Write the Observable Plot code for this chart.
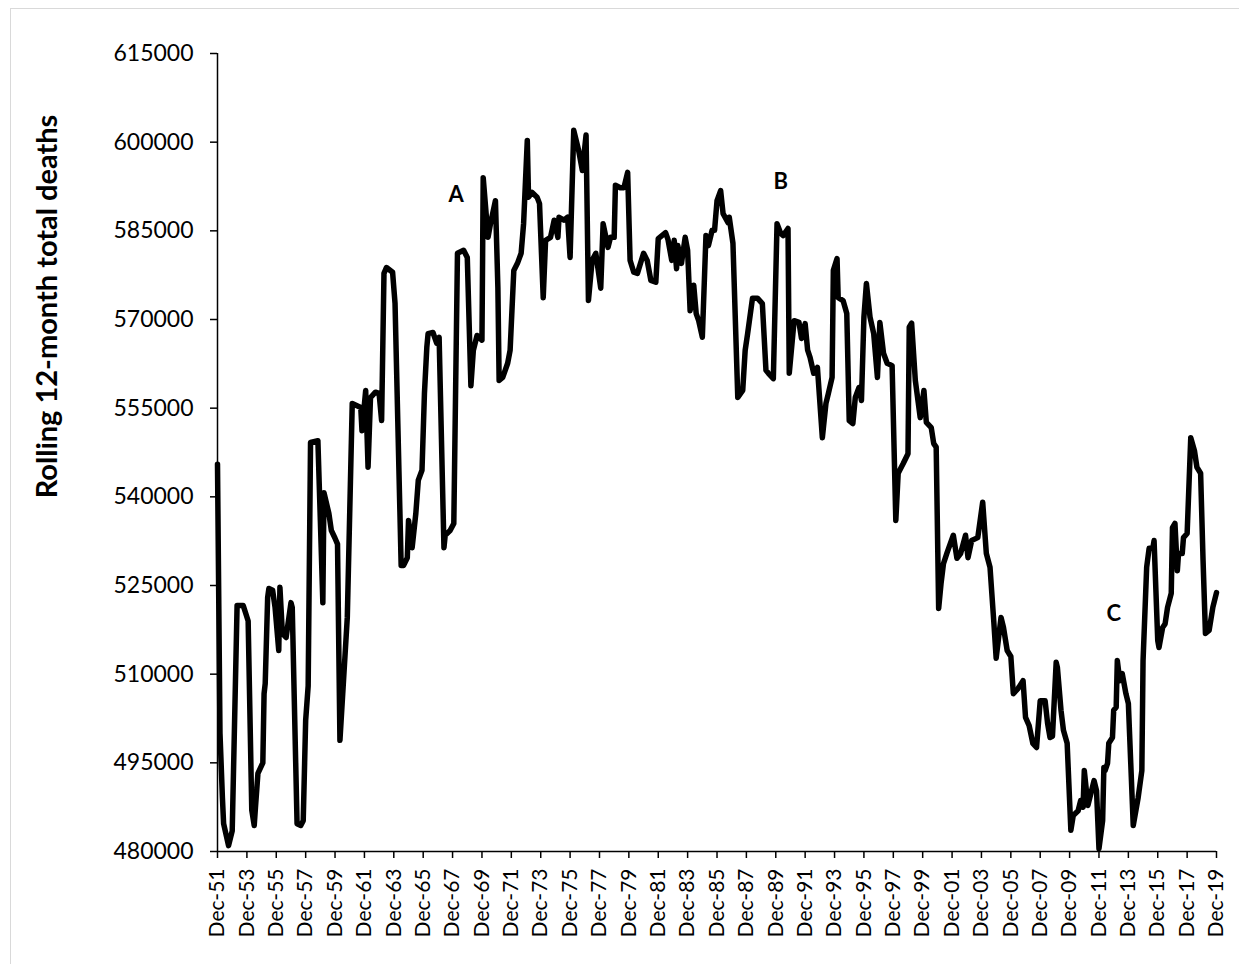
<!DOCTYPE html>
<html>
<head>
<meta charset="utf-8">
<script src="https://cdn.jsdelivr.net/npm/d3@7"></script>
<script src="https://cdn.jsdelivr.net/npm/@observablehq/plot@0.6"></script>
<style>
  html, body { margin: 0; padding: 0; background: white; }
</style>
</head>
<body>
<script>
// Month of each reading (rolling 12-month window ending that month)
const months = [
"1951-12","1952-02","1952-04","1952-05","1952-09","1952-12","1953-04","1953-09","1953-11","1954-01",
"1954-04","1954-06","1954-07","1954-09","1955-01","1955-02","1955-03","1955-05","1955-06","1955-09",
"1955-11","1956-02","1956-03","1956-05","1956-08","1956-12","1957-01","1957-05","1957-08","1957-10",
"1957-12","1958-02","1958-04","1958-10","1958-12","1959-02","1959-03","1959-07","1959-09","1959-12",
"1960-02","1960-04","1960-10","1961-02","1961-09","1961-10","1962-01","1962-03","1962-05","1962-09",
"1962-12","1963-02","1963-04","1963-06","1963-11","1964-01","1964-06","1964-08","1964-11","1964-12",
"1965-03","1965-06","1965-08","1965-11","1966-01","1966-03","1966-04","1966-08","1966-11","1967-01",
"1967-05","1967-06","1967-10","1968-01","1968-04","1968-09","1968-12","1969-03","1969-05","1969-08",
"1969-12","1970-01","1970-05","1970-07","1970-11","1971-01","1971-02","1971-05","1971-09","1971-11",
"1972-02","1972-05","1972-08","1972-10","1973-01","1973-02","1973-05","1973-09","1973-11","1974-02",
"1974-04","1974-08","1974-11","1975-02","1975-03","1975-07","1975-10","1975-12","1976-03","1976-07",
"1976-10","1977-01","1977-03","1977-06","1977-09","1978-01","1978-03","1978-07","1978-09","1978-12",
"1979-01","1979-05","1979-08","1979-11","1980-01","1980-04","1980-07","1980-12","1981-03","1981-06",
"1981-10","1981-12","1982-06","1982-08","1982-11","1983-01","1983-03","1983-04","1983-07","1983-10",
"1983-12","1984-02","1984-05","1984-07","1984-09","1984-12","1985-03","1985-05","1985-08","1985-10",
"1985-12","1986-03","1986-05","1986-09","1986-10","1987-01","1987-05","1987-09","1987-11","1988-01",
"1988-05","1988-09","1989-01","1989-04","1989-06","1989-10","1990-01","1990-04","1990-06","1990-10",
"1990-11","1991-03","1991-07","1991-09","1991-12","1992-02","1992-04","1992-07","1992-10","1993-02",
"1993-05","1993-07","1993-10","1993-11","1994-02","1994-03","1994-07","1994-10","1994-12","1995-03",
"1995-05","1995-08","1995-10","1995-12","1996-02","1996-05","1996-08","1996-11","1997-01","1997-04",
"1997-07","1997-11","1998-02","1998-04","1998-08","1998-12","1999-01","1999-03","1999-06","1999-10",
"2000-01","2000-03","2000-07","2000-09","2000-11","2001-01","2001-03","2001-05","2001-08","2002-01",
"2002-04","2002-07","2002-11","2003-01","2003-04","2003-09","2004-01","2004-04","2004-07","2004-10",
"2004-12","2005-04","2005-06","2005-09","2005-12","2006-02","2006-06","2006-10","2006-12","2007-03",
"2007-06","2007-09","2007-12","2008-04","2008-06","2008-08","2008-10","2009-01","2009-02","2009-05",
"2009-07","2009-10","2010-01","2010-03","2010-07","2010-09","2010-11","2010-12","2011-03","2011-08",
"2011-10","2011-12","2012-03","2012-04","2012-05","2012-07","2012-08","2012-11","2012-12","2013-02",
"2013-03","2013-05","2013-07","2013-10","2013-12","2014-04","2014-08","2014-11","2014-12","2015-03",
"2015-05","2015-08","2015-09","2015-12","2016-01","2016-04","2016-06","2016-08","2016-11","2016-12",
"2017-02","2017-04","2017-05","2017-08","2017-09","2017-12","2018-01","2018-03","2018-06","2018-08",
"2018-11","2019-01","2019-03","2019-06","2019-09","2019-12"
];

// Rolling 12-month total deaths at each month above
const deaths = [
545500,500000,489100,484700,481000,483500,521600,521600,520300,519000,
487000,484400,487400,493200,495000,506700,508400,523000,524500,524200,
521300,514000,524700,516900,516200,522100,521300,484700,484400,485200,
502200,508000,549200,549500,536000,522100,540700,537200,534300,533000,
532000,498800,519600,555800,555100,551200,558000,545000,556800,557700,
557500,552900,577800,578800,578000,572700,528400,528400,529700,536000,
531400,537200,542800,544500,557500,565300,567600,567800,566000,567000,
531400,533500,534300,535500,581200,581700,580500,558800,564800,567300,
566500,594000,583900,586200,590100,575400,559700,560200,562600,564800,
578300,579500,581200,586200,600300,590700,591500,590700,589600,573700,
583400,583900,586800,583900,587300,586800,587300,580500,602000,598600,
595200,601200,573200,580000,581200,575300,586200,582200,583900,583900,
592700,592300,592300,594900,580000,578000,577800,581200,580000,576600,
576300,583700,584700,583500,580000,583400,578600,582500,579500,583900,
581700,571500,575800,571000,569800,567000,584200,582500,585100,585100,
590100,591800,587900,586400,587300,582900,556800,558000,564800,567600,
573600,573600,572700,561400,560900,560000,586200,584600,584200,585400,
560900,569800,569500,566800,569300,564800,563600,560900,561900,550000,
555800,557500,560200,578300,580300,573700,573200,571000,552900,552400,
556800,558500,556300,570400,576100,570400,567600,560200,569500,564300,
562600,562200,536000,544000,545600,547300,568700,569400,559700,553400,
558000,552600,551700,549000,548400,521100,525300,528700,530600,533500,
529600,530400,533500,529700,532600,533100,539100,530400,528100,519100,
512700,519600,517900,514000,513000,506700,507600,508900,502700,501300,
498300,497600,505500,505500,501700,499300,499500,512000,511100,503900,
500500,498300,483600,486100,486900,488600,487500,493700,487800,492000,
490300,480500,485200,494200,493700,494900,498300,499300,503900,504400,
512300,508900,510100,506700,505000,484400,489100,493700,512300,528100,
531300,531300,532600,515700,514500,517900,518500,521300,523700,534800,
535500,527500,530400,530400,533100,533800,539400,550000,547800,545000,
544000,529200,516900,517400,521300,523800
];

// Annotations
const noteLabels = ["A", "B", "C"];
const noteMonths = ["1968-03", "1990-04", "2012-12"];
const noteValues = [591000, 593300, 520200];

// Axis ticks
const yTicks = [480000, 495000, 510000, 525000, 540000, 555000, 570000, 585000, 600000, 615000];
const xTickYears = d3.range(1951, 2020, 2); // December of every other year
const yTitle = "Rolling 12-month total deaths";

const parse = d3.utcParse("%Y-%m");
const data = months.map((m, i) => ({date: parse(m), deaths: deaths[i]}));
const notes = noteLabels.map((t, i) => ({label: t, date: parse(noteMonths[i]), value: noteValues[i]}));
const xTicks = xTickYears.map(y => new Date(Date.UTC(y, 11, 1)));
const xStart = parse("1951-12"), xEnd = parse("2019-12");

const W = 1239, H = 964, ML = 217, MR = 23, MT = 53, MB = 113;

const chart = Plot.plot({
  width: W, height: H,
  marginLeft: ML, marginRight: MR, marginTop: MT, marginBottom: MB,
  style: {fontFamily: "Lato, 'Open Sans', sans-serif", color: "black", background: "white", overflow: "visible"},
  x: {type: "utc", domain: [xStart, xEnd]},
  y: {domain: [480000, 615000]},
  marks: [
    Plot.axisY({ticks: yTicks, tickFormat: d3.format("d"), tickSize: 7, tickPadding: 17, fontSize: 23, strokeWidth: 1.5, label: null}),
    Plot.axisX({ticks: xTicks, tickFormat: d3.utcFormat("%b-%y"), tickRotate: -90, tickSize: 7, tickPadding: 10, fontSize: 21, strokeWidth: 1.5, label: null}),
    Plot.ruleX([xStart], {stroke: "black", strokeWidth: 1.5}),
    Plot.ruleY([480000], {stroke: "black", strokeWidth: 1.5}),
    Plot.line(data, {x: "date", y: "deaths", stroke: "black", strokeWidth: 5.5, strokeLinejoin: "round", strokeLinecap: "round"}),
    Plot.text(notes, {x: "date", y: "value", text: "label", fontWeight: "bold", fontSize: 22, fill: "black"}),
    Plot.text([yTitle], {frameAnchor: "top-left", dx: 47 - ML, dy: 306 - MT, rotate: -90, textAnchor: "middle", lineAnchor: "middle", fontSize: 29, fontWeight: "bold", fill: "black"})
  ]
});

// light chart-area border (top and left edges visible in the reference)
d3.select(chart).insert("rect", ":first-child")
  .attr("x", 10.5).attr("y", 8.5).attr("width", 1400).attr("height", 1100)
  .attr("fill", "none").attr("stroke", "#d9d9d9").attr("stroke-width", 1);

document.body.appendChild(chart);
</script>
</body>
</html>
